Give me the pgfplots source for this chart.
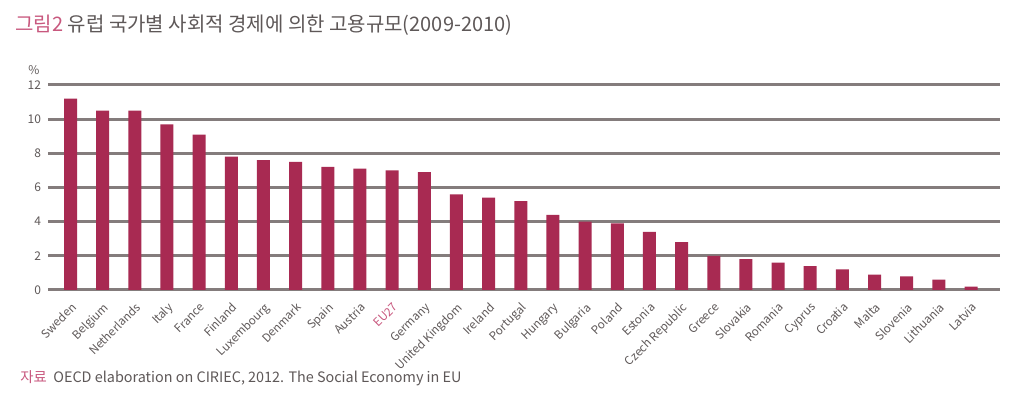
\documentclass[border=0pt]{standalone}
\usepackage{pgfplots}
\pgfplotsset{compat=1.18}
\usepackage{fontspec}
\setmainfont{Noto Sans CJK KR}
\definecolor{barred}{HTML}{A82A52}
\definecolor{gridgray}{HTML}{847C7C}
\definecolor{txtgray}{HTML}{5E5858}
\definecolor{pinkhead}{HTML}{C8587E}

\begin{document}
\begin{tikzpicture}
\useasboundingbox (0,0) rectangle (512.5pt,197pt);

\node[anchor=base west, inner sep=0pt, font=\fontsize{10}{11}\selectfont, text=txtgray]
  at (7.5pt,181pt) {\textcolor{pinkhead}{그림2} 유럽 국가별 사회적 경제에 의한 고용규모(2009-2010)};
\node[anchor=base west, inner sep=0pt, font=\fontsize{7.2}{8}\selectfont, text=txtgray]
  at (10pt,5.5pt) {\textcolor{pinkhead}{자료}\ \ OECD elaboration on CIRIEC, 2012. The Social Economy in EU};

\begin{axis}[
  at={(24pt,52pt)}, anchor=south west,
  scale only axis,
  width=476pt, height=102.5pt,
  ymin=0, ymax=12,
  xmin=-0.7, xmax=28.9,
  ytick={0,2,4,6,8,10,12},
  ymajorgrids,
  grid style={gridgray, line width=1.5pt},
  axis line style={draw=none},
  tick style={draw=none},
  xtick=data,
  xticklabels={Sweden,Belgium,Netherlands,Italy,France,Finland,Luxembourg,Denmark,Spain,Austria,\textcolor{pinkhead}{EU27},Germany,United Kingdom,Ireland,Portugal,Hungary,Bulgaria,Poland,Estonia,Czech Republic,Greece,Slovakia,Romania,Cyprus,Croatia,Malta,Slovenia,Lithuania,Latvia},
  xticklabel style={rotate=45, anchor=north east, font=\fontsize{5.8}{6}\selectfont, text=txtgray, inner sep=1pt},
  yticklabel style={font=\fontsize{6}{7}\selectfont, text=txtgray},
  /pgf/number format/assume math mode=true,
  ybar, bar width=6.5pt,
  clip=false,
]
\addplot[fill=barred, draw=none] coordinates {
(0,11.2) (1,10.5) (2,10.5) (3,9.7) (4,9.1) (5,7.8) (6,7.6) (7,7.5) (8,7.2) (9,7.1)
(10,7.0) (11,6.9) (12,5.6) (13,5.4) (14,5.2) (15,4.4) (16,4.0) (17,3.9) (18,3.4) (19,2.8)
(20,2.0) (21,1.8) (22,1.6) (23,1.4) (24,1.2) (25,0.9) (26,0.8) (27,0.6) (28,0.2)
};
\end{axis}
\node[font=\fontsize{6}{7}\selectfont, text=txtgray] at (17pt,162pt) {\%};
\end{tikzpicture}
\end{document}
